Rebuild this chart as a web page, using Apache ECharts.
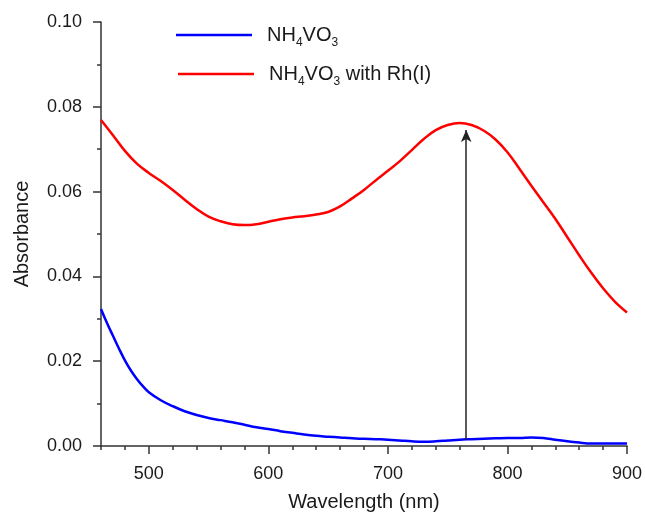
<!DOCTYPE html>
<html>
<head>
<meta charset="utf-8">
<script src="https://cdn.jsdelivr.net/npm/echarts@6/dist/echarts.min.js"></script>
<style>
html,body{margin:0;padding:0;background:#fff;}
#chart{width:645px;height:517px;}
</style>
</head>
<body>
<div id="chart"></div>
<script>
// ---- data ----
const redWavelength = [460,470,480,490,500,510,520,530,540,550,560,570,580,590,600,610,620,630,640,650,660,670,680,690,700,710,720,730,740,750,760,770,780,790,800,810,820,830,840,850,860,870,880,890,900];
const redAbsorbance = [0.0769,0.0733,0.0696,0.0666,0.0644,0.0625,0.0604,0.0581,0.0559,0.0541,0.0530,0.0523,0.0521,0.0523,0.0529,0.0535,0.0539,0.0542,0.0546,0.0552,0.0565,0.0584,0.0604,0.0627,0.0649,0.0672,0.0698,0.0724,0.0745,0.0757,0.0762,0.0757,0.0744,0.0723,0.0693,0.0654,0.0614,0.0575,0.0536,0.0493,0.0450,0.0409,0.0372,0.0340,0.0315];

const blueWavelength = [460,465,470,475,480,485,490,495,500,510,520,530,540,550,560,570,580,590,600,610,620,630,640,650,660,670,680,690,700,710,720,730,740,750,760,770,780,790,800,810,820,830,840,850,860,870,880,890,900];
const blueAbsorbance = [0.0323,0.0290,0.0260,0.0230,0.0202,0.0178,0.0158,0.0141,0.0127,0.0108,0.0094,0.0082,0.0073,0.0066,0.0061,0.0056,0.0050,0.0044,0.0040,0.0035,0.0031,0.0027,0.0024,0.0022,0.0020,0.0018,0.0017,0.0016,0.0015,0.0013,0.0011,0.0010,0.0011,0.0013,0.0015,0.0016,0.0017,0.0018,0.0019,0.0019,0.0020,0.0019,0.0015,0.0011,0.0008,0.0006,0.0006,0.0006,0.0006];

const seriesNames = ['NH4VO3', 'NH4VO3 with Rh(I)'];
const xMajorTicks = [500, 600, 700, 800, 900];
const arrowX = 765.5;
const arrowFrom = 0.0015;
const arrowTo = 0.0745;

function pairs(xs, ys){ return xs.map((x,i)=>[x, ys[i]]); }

const FONT = "'Liberation Sans', Arial, sans-serif";
const AXIS_COLOR = '#333333';

function legendFormatter(name){
  return '{m|' + name.replace(/(\d)/g, '}{s|$1}{m|') + '}';
}
const legendRich = {
  m: {fontSize: 20, fontFamily: FONT, color: '#1a1a1a', lineHeight: 28, verticalAlign: 'middle'},
  s: {fontSize: 12, fontFamily: FONT, color: '#1a1a1a', lineHeight: 28, verticalAlign: 'bottom'}
};
function legendCfg(name, left, top){
  return {
    data: [name], left: left, top: top, orient: 'vertical',
    icon: 'rect', itemWidth: 76, itemHeight: 2.5,
    formatter: legendFormatter,
    textStyle: {rich: legendRich, padding: [0,0,0,10]},
    selectedMode: false
  };
}

const chart = echarts.init(document.getElementById('chart'), null, {renderer: 'canvas'});
chart.setOption({
  backgroundColor: '#ffffff',
  animation: false,
  grid: {left: 101, right: 16, top: 22, bottom: 69},
  legend: [legendCfg(seriesNames[0], 171, 20), legendCfg(seriesNames[1], 173, 59)],
  xAxis: [{
    type: 'value', min: 460, max: 900,
    name: 'Wavelength (nm)', nameLocation: 'middle', nameGap: 46,
    nameTextStyle: {fontSize: 20, fontFamily: FONT, color: '#1a1a1a'},
    axisLine: {show: true, onZero: false, lineStyle: {color: AXIS_COLOR, width: 1.5}},
    axisTick: {show: true, customValues: xMajorTicks, length: 8, inside: false, lineStyle: {color: AXIS_COLOR, width: 1.5}},
    axisLabel: {customValues: xMajorTicks, fontSize: 18, fontFamily: FONT, color: '#1a1a1a', margin: 19},
    splitLine: {show: false}
  }, {
    type: 'value', min: 460, max: 900, interval: 20, position: 'bottom',
    axisLine: {show: false},
    axisTick: {show: true, length: 4, inside: false, lineStyle: {color: AXIS_COLOR, width: 1.5}},
    axisLabel: {show: false},
    splitLine: {show: false}
  }],
  yAxis: {
    type: 'value', min: 0, max: 0.1, interval: 0.02,
    name: 'Absorbance', nameLocation: 'middle', nameGap: 69,
    nameTextStyle: {fontSize: 20, fontFamily: FONT, color: '#1a1a1a'},
    axisLine: {show: true, lineStyle: {color: AXIS_COLOR, width: 1.5}},
    axisTick: {show: true, length: 8, inside: false, lineStyle: {color: AXIS_COLOR, width: 1.5}},
    minorTick: {show: true, splitNumber: 2, length: 4, lineStyle: {color: AXIS_COLOR, width: 1.5}},
    axisLabel: {fontSize: 18, fontFamily: FONT, color: '#1a1a1a', margin: 19, formatter: v => v.toFixed(2)},
    splitLine: {show: false}
  },
  series: [{
    name: seriesNames[0], type: 'line', xAxisIndex: 0,
    data: pairs(blueWavelength, blueAbsorbance),
    smooth: 0.4, symbol: 'none', showSymbol: false,
    lineStyle: {color: '#0000ff', width: 2.5}, itemStyle: {color: '#0000ff'},
    markLine: {
      silent: true, symbol: ['none', 'arrow'], symbolSize: [8, 12],
      label: {show: false},
      lineStyle: {color: '#222222', width: 1.5, type: 'solid'},
      data: [[{coord: [arrowX, arrowFrom]}, {coord: [arrowX, arrowTo]}]]
    }
  }, {
    name: seriesNames[1], type: 'line', xAxisIndex: 0,
    data: pairs(redWavelength, redAbsorbance),
    smooth: 0.4, symbol: 'none', showSymbol: false,
    lineStyle: {color: '#ff0000', width: 2.5}, itemStyle: {color: '#ff0000'}
  }]
});
</script>
</body>
</html>
